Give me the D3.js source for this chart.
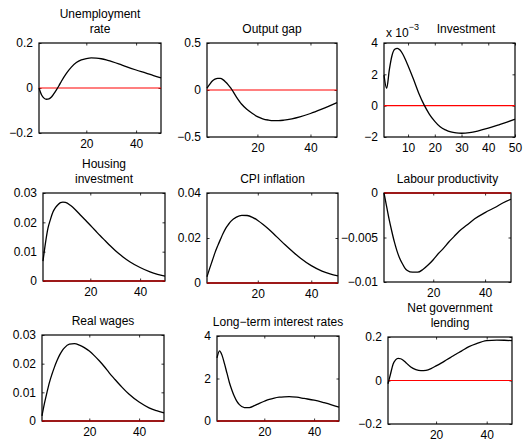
<!DOCTYPE html>
<html lang="en">
<head>
<meta charset="utf-8">
<script src="https://cdn.jsdelivr.net/npm/d3@7"></script>
<style>
  body { margin: 0; background: #fff; }
  svg { display: block; }
  text { font-family: "Liberation Sans", Arial, Helvetica, sans-serif; font-size: 12px; fill: #000; }
</style>
</head>
<body>
<div id="chart"></div>
<script>
var periods = [1, 2, 3, 4, 5, 6, 7, 8, 9, 10, 12, 14, 16, 18, 20, 22, 24, 26, 28, 30, 33, 36, 40, 44, 47, 50];

var unemployment = [0, -0.03, -0.045, -0.05, -0.048, -0.04, -0.025, -0.008, 0.01, 0.03, 0.065, 0.093, 0.113, 0.125, 0.131, 0.134, 0.133, 0.13, 0.125, 0.118, 0.107, 0.095, 0.08, 0.066, 0.055, 0.045];
var outputGap = [0.02, 0.06, 0.095, 0.115, 0.124, 0.123, 0.11, 0.085, 0.055, 0.02, -0.07, -0.149, -0.205, -0.248, -0.284, -0.306, -0.319, -0.326, -0.326, -0.321, -0.306, -0.285, -0.25, -0.207, -0.172, -0.135];
var investment = [1.95, 1.1, 2.3, 3.2, 3.6, 3.66, 3.55, 3.3, 2.95, 2.55, 1.7, 0.8, 0.05, -0.55, -1.0, -1.35, -1.55, -1.68, -1.74, -1.76, -1.72, -1.62, -1.44, -1.22, -1.05, -0.87]; // x 10^-3
var housing = [0.0068, 0.013, 0.018, 0.021, 0.0235, 0.025, 0.026, 0.0267, 0.0269, 0.0268, 0.0258, 0.0243, 0.0225, 0.0208, 0.019, 0.0172, 0.0154, 0.0137, 0.012, 0.0104, 0.0083, 0.0065, 0.0046, 0.0031, 0.0023, 0.0017];
var cpi = [0.0028, 0.0065, 0.01, 0.0135, 0.0165, 0.0193, 0.022, 0.0243, 0.026, 0.0275, 0.0293, 0.0301, 0.03, 0.0292, 0.0278, 0.026, 0.024, 0.0218, 0.0195, 0.0172, 0.014, 0.011, 0.0077, 0.0053, 0.0041, 0.0032];
var productivity = [0, -0.0015, -0.003, -0.0043, -0.0055, -0.0065, -0.0073, -0.0079, -0.0084, -0.0087, -0.0089, -0.0089, -0.0086, -0.0081, -0.0075, -0.0068, -0.0062, -0.0055, -0.0049, -0.0043, -0.0036, -0.0029, -0.0022, -0.0016, -0.0011, -0.0007];
var wages = [0.0018, 0.0062, 0.01, 0.0135, 0.0163, 0.0188, 0.021, 0.0229, 0.0244, 0.0255, 0.0268, 0.027, 0.0265, 0.0256, 0.0244, 0.0228, 0.021, 0.019, 0.0168, 0.0148, 0.0119, 0.0093, 0.0066, 0.0046, 0.0036, 0.0028];
var longRates = [2.97, 3.3, 3.1, 2.7, 2.25, 1.8, 1.45, 1.15, 0.92, 0.77, 0.63, 0.63, 0.72, 0.83, 0.93, 1.02, 1.08, 1.12, 1.14, 1.15, 1.12, 1.06, 0.98, 0.86, 0.76, 0.65];
var govLending = [-0.015, 0.03, 0.075, 0.095, 0.102, 0.1, 0.093, 0.083, 0.072, 0.062, 0.05, 0.045, 0.047, 0.055, 0.067, 0.08, 0.094, 0.108, 0.122, 0.135, 0.156, 0.17, 0.183, 0.186, 0.185, 0.183];

var titles = [["Unemployment", "rate"], ["Output gap"], ["Investment"],
              ["Housing", "investment"], ["CPI inflation"], ["Labour productivity"],
              ["Real wages"], ["Long\u2212term interest rates"], ["Net government", "lending"]];
var series = [unemployment, outputGap, investment, housing, cpi, productivity, wages, longRates, govLending];
var yDomains = [[-0.2, 0.2], [-0.5, 0.5], [-2, 4], [0, 0.03], [0, 0.04], [-0.01, 0], [0, 0.03], [0, 4], [-0.2, 0.2]];
var yTicks = [[-0.2, 0, 0.2], [-0.5, 0, 0.5], [-2, 0, 2, 4], [0, 0.01, 0.02, 0.03], [0, 0.02, 0.04],
              [-0.01, -0.005, 0], [0, 0.01, 0.02, 0.03], [0, 2, 4], [-0.2, 0, 0.2]];
var xTicks = [[20, 40], [20, 40], [10, 20, 30, 40, 50], [20, 40], [20, 40], [20, 40], [20, 40], [20, 40], [20, 40]];

// plot boxes: left, top, right, bottom (pixels)
var boxes = [[39, 43, 161, 133], [207, 43, 337, 137], [384, 43, 515, 137],
             [43, 193, 165, 281], [207, 193, 338, 283], [384, 193, 511, 282],
             [42, 335, 164, 421], [217, 336, 339, 421], [388, 337, 512, 424]];

var width = 528, height = 441;
var svg = d3.select("#chart").append("svg")
    .attr("width", width).attr("height", height);

var fmt = d3.format("~g");

series.forEach(function(values, i) {
    var b = boxes[i];
    var x = d3.scaleLinear().domain([1, 50]).range([b[0], b[2]]);
    var y = d3.scaleLinear().domain(yDomains[i]).range([b[3], b[1]]);
    var g = svg.append("g");

    var zeroOnEdge = yDomains[i][0] === 0 || yDomains[i][1] === 0;

    // ticks (inside, mirrored on opposite side)
    g.append("g").attr("transform", "translate(0," + b[3] + ")")
        .call(d3.axisBottom(x).tickValues(xTicks[i]).tickSize(-2.5).tickFormat(fmt).tickPadding(6))
        .call(function(s) { s.select(".domain").remove(); });
    g.append("g").attr("transform", "translate(0," + b[1] + ")")
        .call(d3.axisTop(x).tickValues(xTicks[i]).tickSize(-2.5).tickFormat(""))
        .call(function(s) { s.select(".domain").remove(); });
    g.append("g").attr("transform", "translate(" + b[0] + ",0)")
        .call(d3.axisLeft(y).tickValues(yTicks[i]).tickSize(-2.5).tickFormat(fmt).tickPadding(6))
        .call(function(s) { s.select(".domain").remove(); });
    g.append("g").attr("transform", "translate(" + b[2] + ",0)")
        .call(d3.axisRight(y).tickValues(yTicks[i]).tickSize(-2.5).tickFormat(""))
        .call(function(s) { s.select(".domain").remove(); });
    g.selectAll(".tick line").attr("stroke", "#000").attr("stroke-width", 0.8);
    g.selectAll(".tick text").attr("font-size", "12px")
        .attr("font-family", "'Liberation Sans', Arial, Helvetica, sans-serif").attr("fill", "#000");

    g.append("rect")
        .attr("x", b[0]).attr("y", b[1])
        .attr("width", b[2] - b[0]).attr("height", b[3] - b[1])
        .attr("fill", "none").attr("stroke", "#000").attr("stroke-width", 1.2);

    // zero reference line
    g.append("line")
        .attr("x1", x(1)).attr("x2", x(50))
        .attr("y1", y(0)).attr("y2", y(0))
        .attr("stroke", zeroOnEdge ? "#b00000" : "#ff0000")
        .attr("stroke-width", zeroOnEdge ? 1.6 : 1.2);

    var line = d3.line()
        .x(function(d, j) { return x(periods[j]); })
        .y(function(d) { return y(d); })
        .curve(d3.curveMonotoneX);
    g.append("path").datum(values)
        .attr("d", line)
        .attr("fill", "none").attr("stroke", "#000").attr("stroke-width", 1.3);

    // title
    var t = titles[i];
    var cx = (b[0] + b[2]) / 2;
    if (i === 2) cx = 466;
    t.forEach(function(s, k) {
        var yy = b[1] - 10 - (t.length - 1 - k) * 15;
        g.append("text").attr("x", cx).attr("y", yy)
            .attr("text-anchor", "middle").text(s);
    });
});

// exponent label for investment panel
var ex = svg.append("text").attr("x", 386).attr("y", 37);
ex.append("tspan").text("x 10");
ex.append("tspan").attr("dy", -7).attr("font-size", "9px").text("\u22123");
</script>
</body>
</html>
